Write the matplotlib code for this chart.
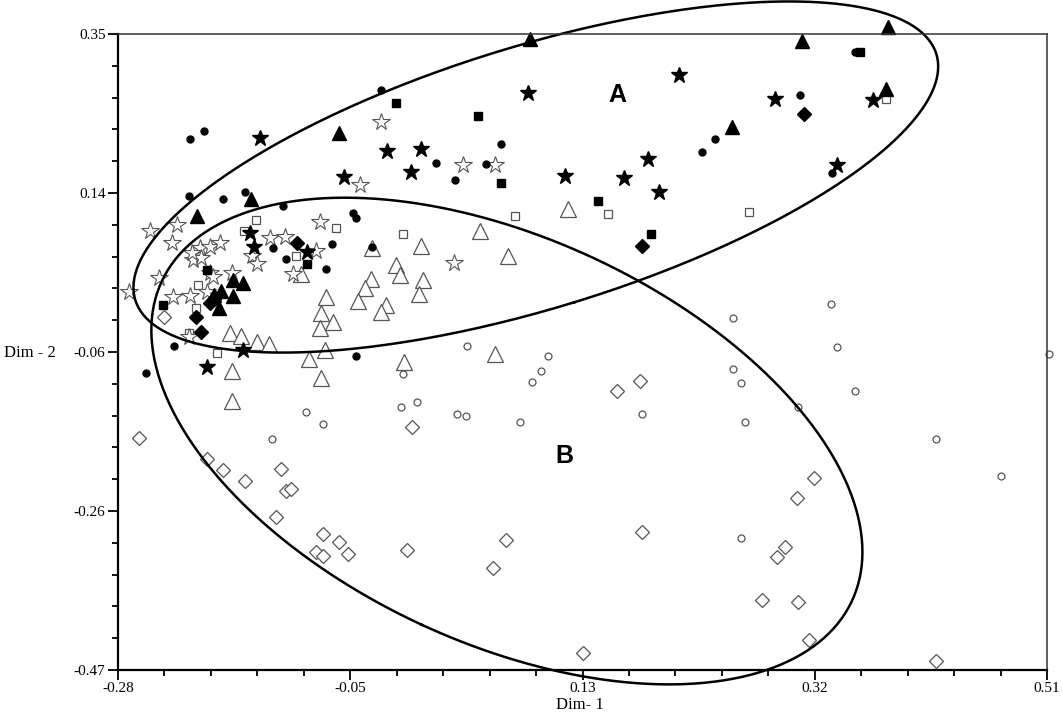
import numpy as np
import matplotlib
matplotlib.use("Agg")
import matplotlib.pyplot as plt
from matplotlib.ticker import FixedLocator, AutoMinorLocator

plt.rcParams['font.family'] = ['Liberation Serif', 'DejaVu Serif']

# axis ticks (labels as printed on the chart)
x_ticks = [-0.28, -0.05, 0.13, 0.32, 0.51]
y_ticks = [-0.47, -0.26, -0.06, 0.14, 0.35]

# --- groups (Dim-1, Dim-2) ---
filled_circle_x = [-0.219, -0.207, -0.220, -0.191, -0.172, -0.140, -0.080, -0.078, -0.056, -0.010,
                   0.007, 0.033, 0.046, 0.217, 0.228, 0.300, 0.327, 0.347, -0.148, -0.137,
                   -0.098, -0.103, -0.232, -0.256, -0.078, -0.064]
filled_circle_y = [0.215, 0.225, 0.141, 0.137, 0.146, 0.128, 0.119, 0.113, 0.278, 0.184,
                   0.162, 0.182, 0.208, 0.198, 0.215, 0.271, 0.171, 0.327, 0.074, 0.060,
                   0.079, 0.047, -0.052, -0.087, -0.065, 0.075]

filled_star_x = [-0.159, -0.088, -0.051, -0.031, -0.022, 0.069, 0.100, 0.150, 0.171, 0.180,
                 0.197, 0.279, 0.331, 0.362, -0.168, -0.164, -0.119, -0.174, -0.204]
filled_star_y = [0.216, 0.166, 0.199, 0.172, 0.202, 0.274, 0.167, 0.164, 0.189, 0.146,
                 0.297, 0.266, 0.181, 0.265, 0.093, 0.075, 0.069, -0.057, -0.079]

filled_tri_x = [0.070, -0.092, -0.213, -0.167, 0.302, 0.375, 0.373, 0.242, -0.182, -0.174,
                -0.192, -0.198, -0.182, -0.194]
filled_tri_y = [0.344, 0.222, 0.115, 0.137, 0.341, 0.359, 0.279, 0.230, 0.033, 0.029,
                0.019, 0.014, 0.012, -0.003]

filled_sq_x = [-0.044, 0.026, 0.046, 0.128, 0.173, 0.351, -0.204, -0.119, -0.242]
filled_sq_y = [0.261, 0.244, 0.158, 0.135, 0.092, 0.327, 0.046, 0.053, 0.001]

filled_dia_x = [0.303, 0.166, -0.128, -0.202, -0.198, -0.214, -0.209]
filled_dia_y = [0.247, 0.077, 0.081, 0.003, 0.008, -0.015, -0.034]

open_star_x = [-0.074, -0.056, 0.013, 0.041, 0.006, -0.230, -0.253, -0.108, -0.234, -0.210,
               -0.202, -0.193, -0.166, -0.162, -0.151, -0.138, -0.112, -0.216, -0.209, -0.217,
               -0.202, -0.199, -0.245, -0.183, -0.131, -0.271, -0.233, -0.219, -0.204, -0.220]
open_star_y = [0.155, 0.237, 0.181, 0.181, 0.055, 0.104, 0.096, 0.108, 0.081, 0.074,
               0.075, 0.081, 0.064, 0.053, 0.087, 0.088, 0.070, 0.059, 0.061, 0.068,
               0.042, 0.037, 0.035, 0.042, 0.041, 0.017, 0.011, 0.012, 0.017, -0.041]

open_sq_x = [-0.163, -0.173, -0.095, -0.129, -0.212, -0.214, -0.220, -0.196, 0.058, 0.137,
             -0.038, 0.373, 0.257]
open_sq_y = [0.110, 0.096, 0.100, 0.064, 0.026, -0.003, -0.035, -0.061, 0.115, 0.118,
             0.092, 0.266, 0.121]

open_tri_x = [0.103, 0.028, 0.052, -0.022, -0.064, -0.044, -0.040, -0.065, -0.070, -0.076,
              -0.021, -0.024, -0.052, -0.056, -0.103, -0.107, -0.097, -0.108, -0.185, -0.175,
              -0.162, -0.152, -0.104, -0.118, -0.183, -0.107, -0.037, 0.041, -0.183, -0.124]
open_tri_y = [0.124, 0.096, 0.064, 0.077, 0.074, 0.052, 0.039, 0.034, 0.023, 0.006,
              0.033, 0.015, 0.001, -0.008, 0.011, -0.010, -0.021, -0.029, -0.035, -0.039,
              -0.047, -0.050, -0.057, -0.069, -0.084, -0.093, -0.073, -0.063, -0.123, 0.041]

open_circle_x = [0.017, 0.086, 0.080, 0.072, -0.038, -0.120, -0.106, -0.149, -0.039, -0.026,
                 0.008, 0.016, 0.062, 0.243, 0.326, 0.331, 0.243, 0.250, 0.347, 0.298,
                 0.166, 0.253, 0.416, 0.471, 0.250, 0.512]
open_circle_y = [-0.052, -0.065, -0.084, -0.099, -0.088, -0.137, -0.153, -0.172, -0.131, -0.124,
                 -0.140, -0.142, -0.150, -0.016, 0.002, -0.053, -0.082, -0.100, -0.110, -0.131,
                 -0.140, -0.150, -0.172, -0.220, -0.300, -0.063]

open_dia_x = [-0.241, -0.262, -0.204, -0.191, -0.172, -0.141, -0.137, -0.133, -0.146, -0.106,
              -0.092, -0.112, -0.106, -0.084, -0.034, 0.050, 0.039, 0.115, 0.144, 0.164,
              -0.030, 0.312, 0.297, 0.166, 0.287, 0.280, 0.268, 0.298, 0.308, 0.416]
open_dia_y = [-0.015, -0.171, -0.198, -0.212, -0.226, -0.211, -0.239, -0.237, -0.273, -0.295,
              -0.305, -0.318, -0.323, -0.320, -0.315, -0.302, -0.338, -0.448, -0.110, -0.097,
              -0.157, -0.222, -0.248, -0.292, -0.311, -0.324, -0.380, -0.382, -0.431, -0.458]

# cluster ellipses: centre and two conjugate semi-axis vectors, in data units
ellipse_a = dict(center=(0.0753, 0.1656), u=(0.0327, -0.1615), v=(-0.3406, -0.1586))
ellipse_b = dict(center=(0.0507, -0.1748), u=(-0.0722, -0.2370), v=(-0.2936, 0.2056))
cluster_labels = {'A': (0.145, 0.271), 'B': (0.100, -0.194)}


fig = plt.figure(figsize=(10.63, 7.14), dpi=100)
ax = fig.add_axes([118 / 1063, 44 / 714, 929 / 1063, 636 / 714])

gray = '#555555'
kw = dict(linestyle='none', clip_on=False)
# open symbols first, filled ones on top
ax.plot(open_dia_x, open_dia_y, marker='D', ms=7, mfc='white', mec=gray, mew=0.9, **kw)
ax.plot(open_circle_x, open_circle_y, marker='o', ms=5, mfc='white', mec=gray, mew=0.9, **kw)
ax.plot(open_tri_x, open_tri_y, marker='^', ms=12, mfc='white', mec=gray, mew=0.9, **kw)
ax.plot(open_sq_x, open_sq_y, marker='s', ms=6, mfc='white', mec=gray, mew=0.9, **kw)
ax.plot(open_star_x, open_star_y, marker='*', ms=13, mfc='white', mec=gray, mew=0.8, **kw)
ax.plot(filled_circle_x, filled_circle_y, marker='o', ms=5, color='black', **kw)
ax.plot(filled_star_x, filled_star_y, marker='*', ms=12, color='black', **kw)
ax.plot(filled_tri_x, filled_tri_y, marker='^', ms=10, color='black', **kw)
ax.plot(filled_sq_x, filled_sq_y, marker='s', ms=5.5, color='black', **kw)
ax.plot(filled_dia_x, filled_dia_y, marker='D', ms=7, color='black', **kw)

# ellipses
t = np.linspace(0, 2 * np.pi, 400)
for e in (ellipse_a, ellipse_b):
    cx, cy = e['center']
    ux, uy = e['u']
    vx, vy = e['v']
    ax.plot(cx + ux * np.cos(t) + vx * np.sin(t), cy + uy * np.cos(t) + vy * np.sin(t),
            color='black', lw=1.8, clip_on=False)

for name, (lx, ly) in cluster_labels.items():
    ax.text(lx, ly, name, family='Liberation Sans', fontweight='bold', fontsize=18,
            ha='center', va='center')

ax.set_xlim(-0.28, 0.51)
ax.set_ylim(-0.47, 0.35)
# tick marks are evenly spaced; the printed labels are the chart's own values
ax.xaxis.set_major_locator(FixedLocator(np.linspace(-0.28, 0.51, 5)))
ax.yaxis.set_major_locator(FixedLocator(np.linspace(-0.47, 0.35, 5)))
ax.set_xticklabels([f"{v:.2f}" for v in x_ticks])
ax.set_yticklabels([f"{v:.2f}" for v in y_ticks])
ax.xaxis.set_minor_locator(AutoMinorLocator(5))
ax.yaxis.set_minor_locator(AutoMinorLocator(5))
ax.tick_params(which='major', direction='out', length=7, width=1.3, labelsize=11, pad=2)
ax.tick_params(which='minor', direction='out', length=4, width=1.3)
ax.tick_params(top=False, right=False)
for s in ['left', 'bottom']:
    ax.spines[s].set_linewidth(1.6)
for s in ['top', 'right']:
    ax.spines[s].set_linewidth(1.1)
    ax.spines[s].set_color('#333333')

fig.text(30 / 1063, 1 - 353 / 714, 'Dim - 2', fontsize=12, ha='center', va='center')
fig.text(580 / 1063, 1 - 705 / 714, 'Dim- 1', fontsize=12, ha='center', va='center')

fig.savefig('out.png', dpi=100)
